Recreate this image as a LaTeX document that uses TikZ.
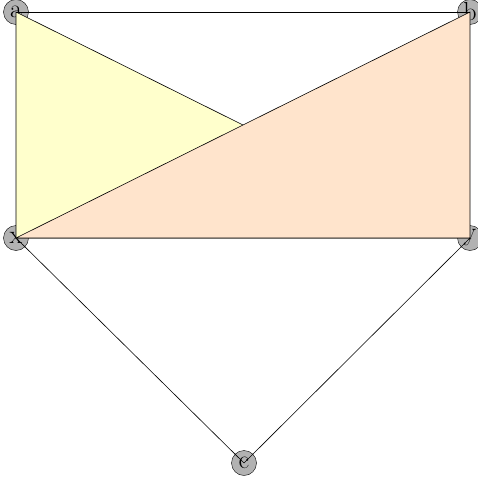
\documentclass[tikz,border=0pt]{standalone}
\begin{document}
\begin{tikzpicture}[x=1pt,y=-1pt,
  vert/.style={circle,draw=black,fill=gray!60,minimum size=25pt,inner sep=0pt,font=\fontsize{26}{26}\selectfont},
  edge/.style={draw=black,line width=0.6pt}]
\useasboundingbox (0,0) rectangle (477,485);
\node[vert] (a) at (16,12) {a};
\node[vert] (b) at (470,12) {b};
\node[vert] (x) at (16,238) {x};
\node[vert] (y) at (470,238) {y};
\node[vert] (c) at (244,463) {c};
\filldraw[edge,fill={rgb,255:red,255;green,255;blue,204}] (a.center) -- (x.center) -- (y.center) -- cycle;
\filldraw[edge,fill={rgb,255:red,255;green,228;blue,204}] (x.center) -- (b.center) -- (y.center) -- cycle;
\draw[edge] (a.center) -- (b.center);
\draw[edge] (x.center) -- (c.center);
\draw[edge] (y.center) -- (c.center);
\end{tikzpicture}
\end{document}
